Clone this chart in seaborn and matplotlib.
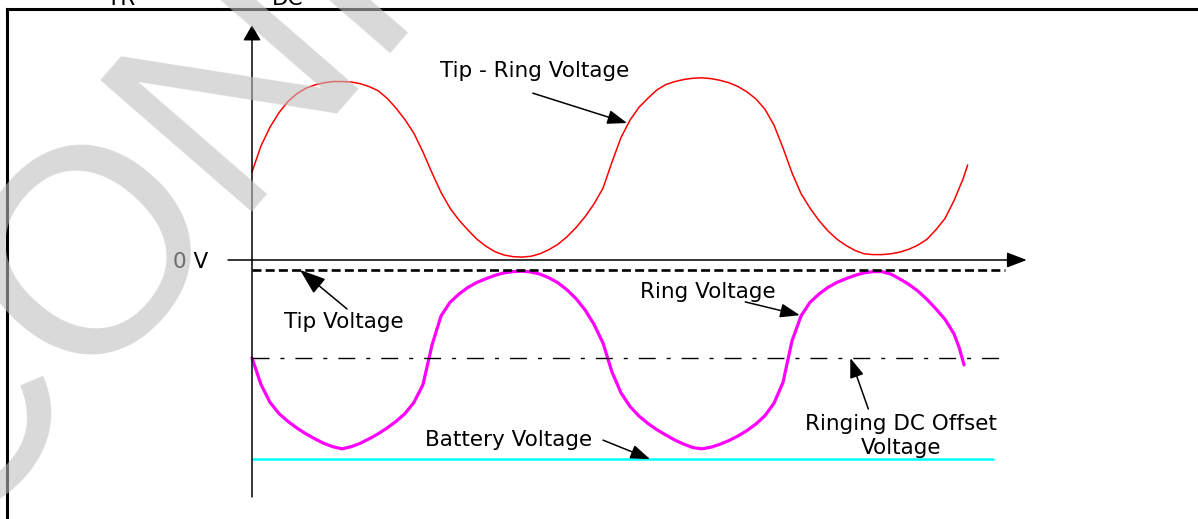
import matplotlib
matplotlib.use("Agg")
import matplotlib.pyplot as plt
import seaborn as sns

# ---------------- data (time in ms, voltage in V) ----------------
t_samples = [0.0, 1.25, 2.5, 3.75, 5.0, 6.25, 7.5, 8.75, 10.0, 11.25,
             12.5, 13.75, 15.0, 16.25, 17.5, 18.75, 20.0, 21.25, 22.5, 23.75,
             25.0, 26.25, 27.5, 28.75, 30.0, 31.25, 32.5, 33.75, 35.0, 36.25,
             37.5, 38.75, 40.0, 41.25, 42.5, 43.75, 45.0, 46.25, 47.5, 48.75,
             50.0, 51.25, 52.5, 53.75, 55.0, 56.25, 57.5, 58.75, 60.0, 61.25,
             62.5, 63.75, 65.0, 66.25, 67.5, 68.75, 70.0, 71.25, 72.5, 73.75,
             75.0, 76.25, 77.5, 78.75, 80.0, 81.25, 82.5, 83.75, 85.0, 86.25,
             87.5, 88.75, 90.0, 91.25, 92.5, 93.75, 95.0, 96.25, 97.5, 98.75]

tip_ring_t = t_samples + [99.4]
tip_ring_v = [21.2, 27.5, 32.0, 35.5, 38.2, 40.1, 41.4, 42.2, 42.7, 43.0,
              43.0, 42.9, 42.5, 41.8, 40.8, 39.0, 36.6, 33.8, 30.5, 26.0,
              21.0, 16.3, 12.5, 9.6, 7.2, 5.0, 3.3, 2.0, 1.2, 0.8,
              0.7, 0.9, 1.5, 2.5, 3.8, 5.6, 7.8, 10.4, 13.5, 17.3,
              23.6, 29.5, 33.7, 36.8, 39.0, 41.0, 42.3, 43.0, 43.5, 43.8,
              43.9, 43.7, 43.3, 42.7, 41.8, 40.5, 38.8, 36.3, 32.5, 27.0,
              21.0, 16.0, 12.5, 9.5, 7.0, 5.0, 3.5, 2.3, 1.5, 1.3,
              1.3, 1.5, 1.9, 2.6, 3.6, 5.0, 7.3, 10.0, 14.3, 19.5,
              22.9]

ring_t = t_samples[:79] + [98.2, 98.9]
ring_v = [-23.6, -30.0, -34.3, -37.0, -38.9, -40.5, -41.9, -43.1, -44.2, -45.0,
          -45.5, -45.0, -44.2, -43.1, -41.9, -40.5, -38.9, -37.0, -34.3, -30.0,
          -20.5, -13.5, -10.2, -8.2, -6.6, -5.4, -4.5, -3.7, -3.1, -2.8,
          -2.7, -2.9, -3.4, -4.3, -5.5, -7.2, -9.3, -12.0, -15.5, -20.0,
          -27.0, -32.0, -35.3, -37.6, -39.4, -40.9, -42.2, -43.4, -44.4, -45.2,
          -45.5, -45.1, -44.4, -43.5, -42.4, -41.1, -39.5, -37.5, -34.5, -29.5,
          -19.5, -13.5, -10.2, -8.2, -6.6, -5.4, -4.5, -3.7, -3.1, -2.8,
          -2.8, -3.4, -4.6, -5.9, -7.5, -9.5, -11.8, -14.3, -17.8,
          -21.0, -25.3]

TIP_V = -2.4
DC_OFFSET_V = -23.6
BATTERY_V = -48.0
level_span_t = [0.0, 104.6]
battery_span_t = [0.0, 102.9]

label_tip_ring = "Tip - Ring Voltage"
label_tip = "Tip Voltage"
label_ring = "Ring Voltage"
label_battery = "Battery Voltage"
label_dc = "Ringing DC Offset\nVoltage"
label_zero = "0 V"

# ---------------- style ----------------
sns.set_theme(style="white")
plt.rcParams['font.family'] = ['DejaVu Sans']
plt.rcParams['text.color'] = 'black'

W, H = 1198, 519
fig = plt.figure(figsize=(W / 100, H / 100), dpi=100)
fig.patch.set_facecolor('white')
ax = fig.add_axes([6.5 / W, 0, 1 - 6.5 / W, 1 - 8.5 / H])
ax.set_facecolor('white')

# curves
sns.lineplot(x=tip_ring_t, y=tip_ring_v, ax=ax, color='#ff0000', lw=1.1,
             sort=False, estimator=None)
sns.lineplot(x=ring_t, y=ring_v, ax=ax, color='#ff00ff', lw=2.3,
             sort=False, estimator=None)
sns.lineplot(x=level_span_t, y=[TIP_V, TIP_V], ax=ax, color='black', lw=1.9,
             sort=False, estimator=None)
ax.lines[-1].set_dashes((3.4, 1.6))
sns.lineplot(x=level_span_t, y=[DC_OFFSET_V, DC_OFFSET_V], ax=ax, color='black',
             lw=1.0, sort=False, estimator=None)
ax.lines[-1].set_dashes((12.2, 7.9, 2.9, 7.9))
sns.lineplot(x=battery_span_t, y=[BATTERY_V, BATTERY_V], ax=ax, color='#00ffff',
             lw=1.8, sort=False, estimator=None)
for ln in ax.lines:
    ln.set_solid_joinstyle('round')

# axes arrows
ax.annotate('', xy=(107.6, 0), xytext=(-3.33, 0),
            arrowprops=dict(arrowstyle='-|>,head_length=12.2,head_width=4.7',
                            mutation_scale=1, lw=1.1, color='black',
                            shrinkA=0, shrinkB=0))
ax.annotate('', xy=(0, 56.6), xytext=(0, -57.1),
            arrowprops=dict(arrowstyle='-|>,head_length=9.4,head_width=5.4',
                            mutation_scale=1, lw=1.1, color='black',
                            shrinkA=0, shrinkB=0))

def pointer(tip, tail, hl=12.0, hw=4.3):
    ax.annotate('', xy=tip, xytext=tail,
                arrowprops=dict(arrowstyle=f'-|>,head_length={hl},head_width={hw}',
                                mutation_scale=1, lw=1.1, color='black',
                                shrinkA=0, shrinkB=0))

pointer((52.1, 33.0), (39.0, 40.2))
pointer((6.67, TIP_V), (13.2, -11.8), hl=16, hw=5.8)
pointer((76.1, -13.3), (68.5, -10.1))
pointer((55.3, BATTERY_V), (48.75, -43.4))
pointer((83.1, DC_OFFSET_V), (85.6, -35.9))

fs = 15.5
ax.text(39.3, 44.0, label_tip_ring, ha='center', va='baseline', fontsize=fs)
ax.text(12.8, -16.4, label_tip, ha='center', va='baseline', fontsize=fs)
ax.text(63.3, -9.2, label_ring, ha='center', va='baseline', fontsize=fs)
ax.text(35.7, -44.8, label_battery, ha='center', va='baseline', fontsize=fs)
ax.text(90.1, -46.7, label_dc, ha='center', va='baseline', fontsize=fs,
        multialignment='center', linespacing=1.25)
ax.text(-8.5, -1.9, label_zero, ha='center', va='baseline', fontsize=fs)

# captions clipped at the top edge (as in the reference)
ax.text(-18.2, 61.45, "TR", ha='center', va='baseline', fontsize=fs, clip_on=False)
ax.text(5.0, 61.45, "DC", ha='center', va='baseline', fontsize=fs, clip_on=False)

ax.set_xlim(-34.097, 131.389)
ax.set_ylim(-62.41, 60.60)
ax.set_xticks([])
ax.set_yticks([])
ax.set_xlabel('')
ax.set_ylabel('')
for s in ['bottom', 'right']:
    ax.spines[s].set_visible(False)
for s in ['left', 'top']:
    ax.spines[s].set_visible(True)
    ax.spines[s].set_linewidth(2.2)
    ax.spines[s].set_color('black')

# watermark
fig.text(-55 / W, 1 - 548 / H, "CONFIDENTIAL", rotation=49, rotation_mode='anchor',
         ha='left', va='baseline', fontsize=210, family='Liberation Sans',
         color=(0.745, 0.745, 0.745), alpha=0.59, zorder=10)

fig.savefig('out.png', dpi=100)
